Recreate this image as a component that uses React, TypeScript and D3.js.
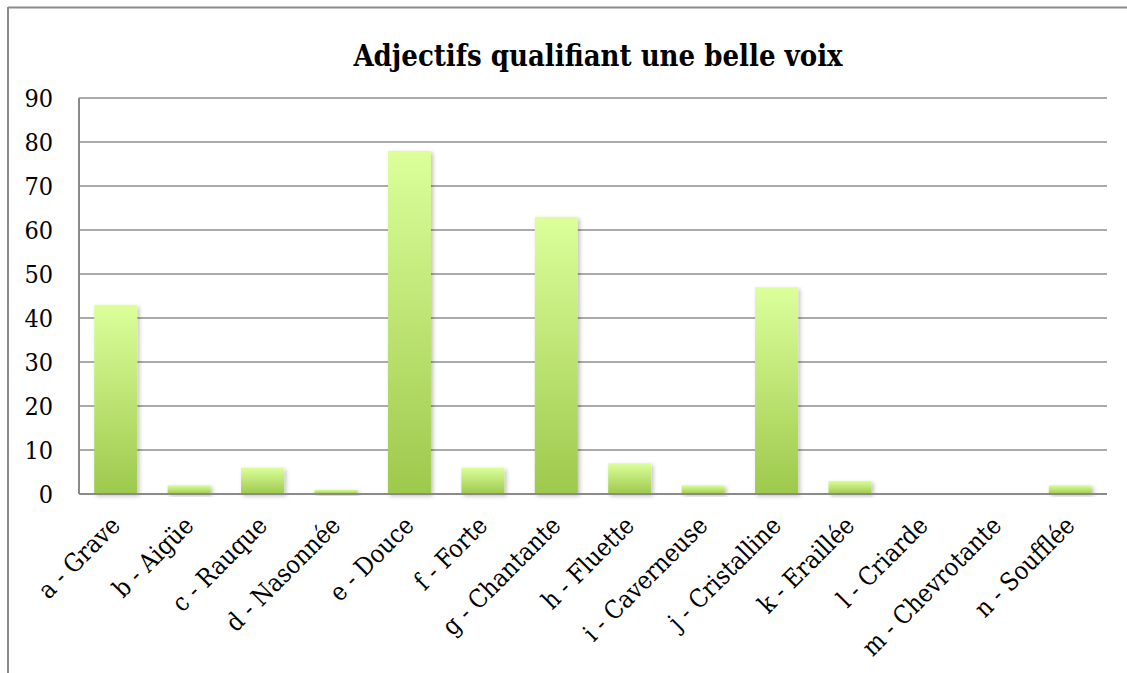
import React, { useEffect, useRef } from "react";
import * as d3 from "d3";

const categories = [
  "a - Grave",
  "b - Aigüe",
  "c - Rauque",
  "d - Nasonnée",
  "e - Douce",
  "f - Forte",
  "g - Chantante",
  "h - Fluette",
  "i - Caverneuse",
  "j - Cristalline",
  "k - Eraillée",
  "l - Criarde",
  "m - Chevrotante",
  "n - Soufflée",
];
const values = [43, 2, 6, 1, 78, 6, 63, 7, 2, 47, 3, 0, 0, 2];
const yTicks = [0, 10, 20, 30, 40, 50, 60, 70, 80, 90];
const title = "Adjectifs qualifiant une belle voix";

const W = 1127;
const H = 673;
const FONT = "'DejaVu Serif Condensed', 'DejaVu Serif', serif";

export default function App() {
  const ref = useRef<SVGSVGElement | null>(null);

  useEffect(() => {
    const svg = d3.select(ref.current);
    svg.selectAll("*").remove();

    const left = 79, right = 1107, top = 98, bottom = 494;
    const x = d3.scaleBand<string>().domain(categories).range([left, right]).paddingInner(0.414).paddingOuter(0.207);
    const y = d3.scaleLinear().domain([0, 90]).range([bottom, top]);

    const defs = svg.append("defs");
    const grad = defs.append("linearGradient").attr("id", "barGrad").attr("x1", 0).attr("y1", 0).attr("x2", 0).attr("y2", 1);
    grad.append("stop").attr("offset", "0%").attr("stop-color", "#dcff9b");
    grad.append("stop").attr("offset", "100%").attr("stop-color", "#9dc94c");
    const filt = defs.append("filter").attr("id", "shadow").attr("x", "-30%").attr("y", "-30%").attr("width", "160%").attr("height", "160%");
    filt.append("feDropShadow").attr("dx", 2).attr("dy", 2).attr("stdDeviation", 2).attr("flood-color", "#000").attr("flood-opacity", 0.25);

    svg.append("rect").attr("width", W).attr("height", H).attr("fill", "#fff");

    // outer frame
    svg.append("line").attr("x1", 8).attr("x2", W).attr("y1", 7.5).attr("y2", 7.5).attr("stroke", "#8a8a8a").attr("stroke-width", 2);
    svg.append("line").attr("x1", 8).attr("x2", 8).attr("y1", 7).attr("y2", H).attr("stroke", "#8a8a8a").attr("stroke-width", 2);

    // title
    svg.append("text").attr("x", 598).attr("y", 66).attr("text-anchor", "middle")
      .attr("font-family", FONT).attr("font-weight", "bold").attr("font-size", 29).attr("fill", "#000").text(title);

    // gridlines
    svg.append("g").selectAll("line").data(yTicks.filter((t) => t > 0)).join("line")
      .attr("x1", left).attr("x2", right).attr("y1", (d) => y(d)).attr("y2", (d) => y(d))
      .attr("stroke", "#8e8e8e").attr("stroke-width", 1.6);

    // y labels
    svg.append("g").selectAll("text").data(yTicks).join("text")
      .attr("x", 53).attr("y", (d) => y(d)).attr("dy", "0.36em").attr("text-anchor", "end")
      .attr("font-family", FONT).attr("font-size", 25).attr("fill", "#000").text((d) => String(d));

    // bars
    svg.append("g").selectAll("rect").data(values.map((v, i) => ({ v, c: categories[i] })).filter((d) => d.v > 0)).join("rect")
      .attr("x", (d) => x(d.c)!).attr("width", x.bandwidth())
      .attr("y", (d) => y(d.v)).attr("height", (d) => bottom - y(d.v))
      .attr("fill", "url(#barGrad)").attr("filter", "url(#shadow)");

    // axes
    svg.append("line").attr("x1", left).attr("x2", left).attr("y1", top).attr("y2", bottom).attr("stroke", "#8a8a8a").attr("stroke-width", 2);
    svg.append("line").attr("x1", left).attr("x2", right).attr("y1", bottom).attr("y2", bottom).attr("stroke", "#8a8a8a").attr("stroke-width", 2);

    // x labels
    svg.append("g").selectAll("text").data(categories).join("text")
      .attr("transform", (d) => `translate(${x(d)! + x.bandwidth() / 2 + 6},${bottom + 33}) rotate(-45)`)
      .attr("text-anchor", "end").attr("font-family", FONT).attr("font-size", 25).attr("fill", "#000").text((d) => d);
  }, []);

  return (
    <div style={{ position: "fixed", left: 0, top: 0 }}>
      <svg ref={ref} width={W} height={H} style={{ display: "block" }} />
    </div>
  );
}
